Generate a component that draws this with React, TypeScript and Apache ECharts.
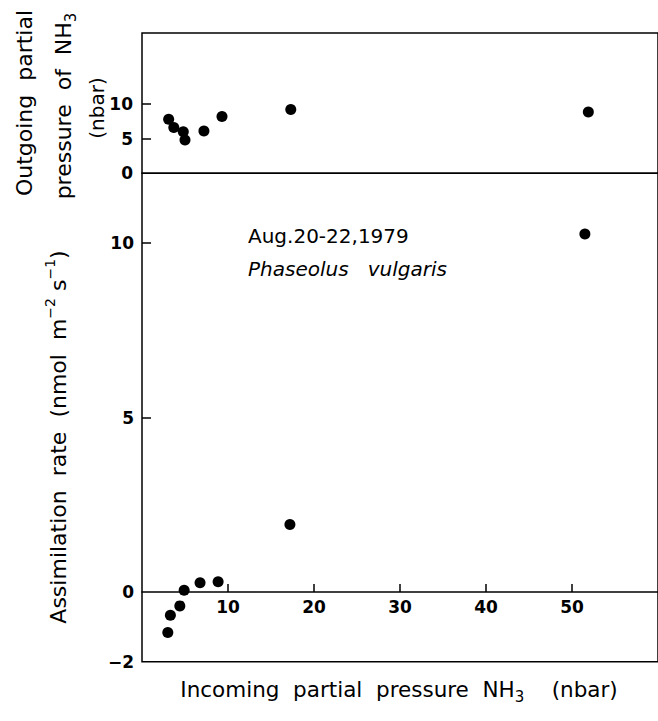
import React, { useEffect, useRef } from "react";
import * as echarts from "echarts";

// Incoming partial pressure NH3 (nbar) vs outgoing partial pressure (top panel)
const outgoingX = [3.1, 3.7, 4.8, 5.0, 7.2, 9.3, 17.3, 51.9];
const outgoingY = [7.8, 6.6, 6.0, 4.8, 6.1, 8.2, 9.2, 8.85];
// Incoming partial pressure NH3 (nbar) vs assimilation rate (bottom panel)
const assimX = [3.0, 3.3, 4.4, 4.9, 6.75, 8.85, 17.2, 51.5];
const assimY = [-1.16, -0.67, -0.4, 0.05, 0.26, 0.29, 1.93, 10.26];

const xTickValues = [10, 20, 30, 40, 50];
const topYLabels = [0, 5, 10];
const topYTicks = [5, 10];
const bottomYLabels = [-2, 0, 5, 10];
const bottomYTicks = [5, 10];

const FONT = "DejaVu Sans";
const BOTTOM_H = 488.4;
const BOTTOM_MIN = -2;
const BOTTOM_MAX = 12;

export default function App() {
  const ref = useRef<HTMLDivElement>(null);
  useEffect(() => {
    if (!ref.current) return;
    const chart = echarts.init(ref.current, undefined, { renderer: "svg" });
    const labelStyle = {
      color: "#000", fontFamily: FONT, fontSize: 17, fontWeight: "bold" as const,
      formatter: (v: number) => String(v).replace("-", "−"),
    };
    const zeroOffset = -((0 - BOTTOM_MIN) / (BOTTOM_MAX - BOTTOM_MIN)) * BOTTOM_H;
    const option: any = {
      animation: false,
      backgroundColor: "#fff",
      grid: [
        { left: 142, top: 33, width: 522, height: 140.3, show: true, borderColor: "#000", borderWidth: 1.5, backgroundColor: "transparent" },
        { left: 142, top: 173.3, width: 522, height: BOTTOM_H, show: true, borderColor: "#000", borderWidth: 1.5, backgroundColor: "transparent" },
      ],
      xAxis: [
        { type: "value", gridIndex: 0, min: 0, max: 60, show: false, splitLine: { show: false } },
        {
          type: "value", gridIndex: 1, min: 0, max: 60, interval: 10, position: "bottom", offset: zeroOffset,
          axisLine: { show: true, onZero: false, lineStyle: { color: "#000", width: 1.5 } },
          axisTick: { show: true, inside: true, length: 8, customValues: xTickValues, lineStyle: { color: "#000", width: 1.5 } },
          axisLabel: { show: true, customValues: xTickValues, margin: 7, ...labelStyle },
          splitLine: { show: false },
        },
      ],
      yAxis: [
        {
          type: "value", gridIndex: 0, min: 0, max: 20.25, interval: 5,
          axisLine: { show: false },
          axisTick: { show: true, inside: true, length: 9, customValues: topYTicks, lineStyle: { color: "#000", width: 1.5 } },
          axisLabel: { show: true, customValues: topYLabels, margin: 9, ...labelStyle },
          splitLine: { show: false },
        },
        {
          type: "value", gridIndex: 1, min: BOTTOM_MIN, max: BOTTOM_MAX, interval: 1,
          axisLine: { show: false },
          axisTick: { show: true, inside: true, length: 9, customValues: bottomYTicks, lineStyle: { color: "#000", width: 1.5 } },
          axisLabel: { show: true, customValues: bottomYLabels, margin: 8, ...labelStyle },
          splitLine: { show: false },
        },
      ],
      series: [
        {
          type: "scatter", xAxisIndex: 0, yAxisIndex: 0, symbol: "circle", symbolSize: 11,
          itemStyle: { color: "#000", opacity: 1 },
          data: outgoingX.map((x, i) => [x, outgoingY[i]]),
        },
        {
          type: "scatter", xAxisIndex: 1, yAxisIndex: 1, symbol: "circle", symbolSize: 11,
          itemStyle: { color: "#000", opacity: 1 },
          data: assimX.map((x, i) => [x, assimY[i]]),
        },
      ],
      graphic: [
        {
          type: "text", x: 24, y: 103, rotation: Math.PI / 2,
          style: { text: "Outgoing  partial", fill: "#000", font: `22px ${FONT}`, align: "center", verticalAlign: "middle" },
        },
        {
          type: "text", x: 63, y: 106, rotation: Math.PI / 2,
          style: {
            text: "{a|pressure  of  NH}{s|3}",
            align: "center", verticalAlign: "middle",
            rich: {
              a: { fill: "#000", fontFamily: FONT, fontSize: 22, lineHeight: 30, verticalAlign: "middle" },
              s: { fill: "#000", fontFamily: FONT, fontSize: 15, lineHeight: 15, verticalAlign: "bottom" },
            },
          },
        },
        {
          type: "text", x: 97, y: 108, rotation: Math.PI / 2,
          style: { text: "(nbar)", fill: "#000", font: `20px ${FONT}`, align: "center", verticalAlign: "middle" },
        },
        {
          type: "text", x: 58, y: 437, rotation: Math.PI / 2,
          style: {
            text: "{a|Assimilation  rate  (nmol  m}{p|−2}{a| s}{p|−1}{a|)}",
            align: "center", verticalAlign: "middle",
            rich: {
              a: { fill: "#000", fontFamily: FONT, fontSize: 22, lineHeight: 30, verticalAlign: "middle" },
              p: { fill: "#000", fontFamily: FONT, fontSize: 14, lineHeight: 14, verticalAlign: "top" },
            },
          },
        },
        {
          type: "text", x: 399, y: 689,
          style: {
            text: "{a|Incoming  partial  pressure  NH}{s|3}{a|    (nbar)}",
            align: "center", verticalAlign: "middle",
            rich: {
              a: { fill: "#000", fontFamily: FONT, fontSize: 21.5, lineHeight: 30, verticalAlign: "middle" },
              s: { fill: "#000", fontFamily: FONT, fontSize: 15, lineHeight: 15, verticalAlign: "bottom" },
            },
          },
        },
        {
          type: "text", x: 248, y: 236,
          style: { text: "Aug.20-22,1979", fill: "#000", font: `20px ${FONT}`, align: "left", verticalAlign: "middle" },
        },
        {
          type: "text", x: 248, y: 269,
          style: { text: "Phaseolus   vulgaris", fill: "#000", font: `italic 20px ${FONT}`, align: "left", verticalAlign: "middle" },
        },
      ],
    };
    chart.setOption(option);
    return () => chart.dispose();
  }, []);
  return <div ref={ref} style={{ position: "absolute", left: 0, top: 0, width: 658, height: 721 }} />;
}
